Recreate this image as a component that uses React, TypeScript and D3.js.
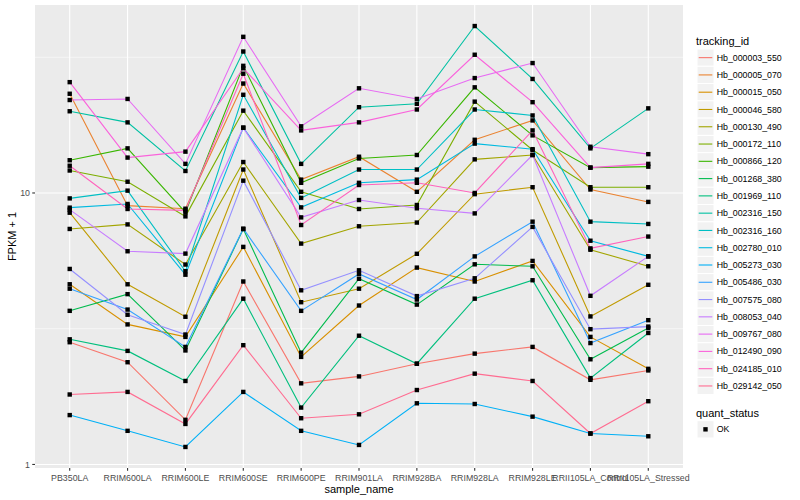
import React from 'react';
import * as d3 from 'd3';

const sampleNames = [
  'PB350LA', 'RRIM600LA', 'RRIM600LE', 'RRIM600SE', 'RRIM600PE', 'RRIM901LA',
  'RRIM928BA', 'RRIM928LA', 'RRIM928LE', 'RRII105LA_Control', 'RRII105LA_Stressed',
];

const trackingIds = [
  'Hb_000003_550', 'Hb_000005_070', 'Hb_000015_050', 'Hb_000046_580', 'Hb_000130_490',
  'Hb_000172_110', 'Hb_000866_120', 'Hb_001268_380', 'Hb_001969_110', 'Hb_002316_150',
  'Hb_002316_160', 'Hb_002780_010', 'Hb_005273_030', 'Hb_005486_030', 'Hb_007575_080',
  'Hb_008053_040', 'Hb_009767_080', 'Hb_012490_090', 'Hb_024185_010', 'Hb_029142_050',
];

const seriesColors = [
  '#F8766D', '#EA8331', '#D89000', '#C09B00', '#A3A500', '#7CAE00', '#39B600', '#00BB4E',
  '#00BF7D', '#00C1A3', '#00BFC4', '#00BAE0', '#00B0F6', '#35A2FF', '#9590FF', '#C77CFF',
  '#E76BF3', '#FA62DB', '#FF62BC', '#FF6C91',
];

// FPKM + 1 per sample (same order as sampleNames)
const hb_000003_550 = [2.82, 2.38, 1.46, 4.72, 1.99, 2.11, 2.35, 2.56, 2.71, 2.05, 2.22];
const hb_000005_070 = [23.2, 8.98, 8.75, 25.3, 11.2, 13.6, 10.1, 15.7, 18.5, 10.3, 9.27];
const hb_000015_050 = [4.61, 3.28, 2.95, 6.33, 2.49, 3.85, 5.31, 4.72, 5.62, 2.95, 2.25];
const hb_000046_580 = [8.46, 4.61, 3.5, 12.2, 3.96, 4.44, 5.97, 9.9, 10.5, 3.51, 4.59];
const hb_000130_490 = [7.37, 7.66, 5.45, 13.0, 6.51, 7.54, 7.78, 13.3, 13.8, 6.18, 5.37];
const hb_000172_110 = [12.1, 11.0, 8.2, 20.1, 10.1, 8.73, 9.03, 21.7, 14.4, 10.5, 10.5];
const hb_000866_120 = [13.2, 14.6, 8.48, 29.4, 10.9, 13.4, 13.8, 24.5, 16.3, 12.4, 12.5];
const hb_001268_380 = [3.68, 4.24, 2.63, 7.36, 2.58, 4.83, 3.88, 5.46, 5.37, 2.44, 3.18];
const hb_001969_110 = [2.89, 2.62, 2.03, 4.08, 1.62, 2.98, 2.35, 4.08, 4.77, 2.08, 3.05];
const hb_002316_150 = [20.0, 18.2, 12.05, 33.2, 12.8, 20.7, 21.3, 41.2, 26.3, 14.6, 20.5];
const hb_002316_160 = [9.55, 10.2, 5.15, 23.0, 9.59, 12.2, 12.2, 20.3, 19.3, 7.84, 7.69];
const hb_002780_010 = [8.83, 9.11, 5.0, 17.4, 8.85, 10.9, 11.2, 15.2, 14.5, 6.67, 5.84];
const hb_005273_030 = [1.52, 1.33, 1.16, 1.85, 1.33, 1.18, 1.68, 1.67, 1.5, 1.3, 1.27];
const hb_005486_030 = [4.44, 3.72, 2.71, 7.39, 3.68, 5.03, 4.05, 5.84, 7.84, 2.8, 3.4];
const hb_007575_080 = [5.25, 3.56, 3.01, 11.1, 4.38, 5.19, 4.17, 4.85, 7.5, 3.15, 3.22];
const hb_008053_040 = [8.68, 6.1, 5.98, 17.4, 8.13, 9.42, 8.78, 8.41, 13.8, 4.18, 5.84];
const hb_009767_080 = [22.0, 22.2, 12.8, 37.6, 17.6, 24.3, 22.2, 26.5, 30.1, 14.8, 13.9];
const hb_012490_090 = [25.6, 13.5, 14.2, 28.8, 17.0, 18.2, 20.3, 32.3, 21.6, 12.4, 12.8];
const hb_024185_010 = [12.6, 8.73, 8.63, 27.5, 7.62, 10.7, 10.9, 10.0, 17.0, 6.25, 6.91];
const hb_029142_050 = [1.81, 1.85, 1.41, 2.75, 1.48, 1.53, 1.88, 2.16, 2.03, 1.3, 1.71];

const seriesValues = [
  hb_000003_550, hb_000005_070, hb_000015_050, hb_000046_580, hb_000130_490,
  hb_000172_110, hb_000866_120, hb_001268_380, hb_001969_110, hb_002316_150,
  hb_002316_160, hb_002780_010, hb_005273_030, hb_005486_030, hb_007575_080,
  hb_008053_040, hb_009767_080, hb_012490_090, hb_024185_010, hb_029142_050,
];

const yMajorTicks = [1, 10];
const yTickLabels = ['1', '10'];
const quantStatusLevels = ['OK'];

const FONT = '"Liberation Sans", Arial, Helvetica, sans-serif';

export default function App() {
  const W = 800, H = 500;
  const panel = { left: 35, right: 683, top: 5, bottom: 468 };

  const x = d3.scalePoint<string>().domain(sampleNames).range([panel.left, panel.right]).padding(0.6);

  const all = seriesValues.flat();
  const lo = Math.log10(d3.min(all) as number);
  const hi = Math.log10(d3.max(all) as number);
  const ex = (hi - lo) * 0.05;
  const y = d3.scaleLog().domain([Math.pow(10, lo - ex), Math.pow(10, hi + ex)]).range([panel.bottom, panel.top]);

  // minor breaks: midpoints between majors in log space
  const majorsExt = [0.1, 1, 10, 100];
  const minor = majorsExt.slice(0, -1).map((m, i) => Math.sqrt(m * majorsExt[i + 1]))
    .filter(v => y(v) >= panel.top && y(v) <= panel.bottom);

  const line = d3.line<number>()
    .x((_, i) => x(sampleNames[i]) as number)
    .y(d => y(d));

  const legendX = 697;
  const keyW = 17, keyH = 17.28;
  const legendTop = 49;

  return (
    <svg width={W} height={H} style={{ position: 'absolute', left: 0, top: 0, background: '#fff' }}
      fontFamily={FONT}>
      <rect x={0} y={0} width={W} height={H} fill="#fff" />
      <rect x={panel.left} y={panel.top} width={panel.right - panel.left} height={panel.bottom - panel.top} fill="#EBEBEB" />
      {minor.map((v, i) => (
        <line key={'mn' + i} x1={panel.left} x2={panel.right} y1={y(v)} y2={y(v)} stroke="#fff" strokeWidth={0.55} />
      ))}
      {yMajorTicks.map((v, i) => (
        <line key={'mj' + i} x1={panel.left} x2={panel.right} y1={y(v)} y2={y(v)} stroke="#fff" strokeWidth={1.1} />
      ))}
      {sampleNames.map(s => (
        <line key={'vx' + s} x1={x(s)} x2={x(s)} y1={panel.top} y2={panel.bottom} stroke="#fff" strokeWidth={1.1} />
      ))}

      {seriesValues.map((vals, i) => (
        <path key={'ln' + i} d={line(vals) as string} fill="none" stroke={seriesColors[i]} strokeWidth={1.1} />
      ))}
      {seriesValues.map((vals, i) => vals.map((v, j) => (
        <rect key={'pt' + i + '_' + j} x={(x(sampleNames[j]) as number) - 2.2} y={y(v) - 2.2} width={4.4} height={4.4} fill="#000" />
      )))}

      {/* y axis */}
      {yMajorTicks.map((v, i) => (
        <g key={'yt' + i}>
          <line x1={panel.left - 2.75} x2={panel.left} y1={y(v)} y2={y(v)} stroke="#333" strokeWidth={1.1} />
          <text x={panel.left - 5} y={y(v)} dy="0.35em" textAnchor="end" fontSize={8.8} fill="#4D4D4D">{yTickLabels[i]}</text>
        </g>
      ))}
      {/* x axis */}
      {sampleNames.map(s => (
        <g key={'xt' + s}>
          <line x1={x(s)} x2={x(s)} y1={panel.bottom} y2={panel.bottom + 2.75} stroke="#333" strokeWidth={1.1} />
          <text x={x(s)} y={panel.bottom + 12.5} textAnchor="middle" fontSize={8.8} fill="#4D4D4D">{s}</text>
        </g>
      ))}
      <text x={(panel.left + panel.right) / 2} y={493} textAnchor="middle" fontSize={11} fill="#000">sample_name</text>
      <text transform={`translate(16,${(panel.top + panel.bottom) / 2}) rotate(-90)`} textAnchor="middle" fontSize={11} fill="#000">FPKM + 1</text>

      {/* legend: tracking_id */}
      <text x={legendX - 1} y={44.5} fontSize={11} fill="#000">tracking_id</text>
      {trackingIds.map((id, i) => {
        const top = legendTop + i * keyH;
        return (
          <g key={'lg' + id}>
            <rect x={legendX} y={top} width={keyW} height={keyH} fill="#F2F2F2" stroke="#fff" strokeWidth={1} />
            <line x1={legendX + 1.7} x2={legendX + keyW - 1.7} y1={top + keyH / 2} y2={top + keyH / 2} stroke={seriesColors[i]} strokeWidth={1.1} />
            <text x={legendX + keyW + 2.7} y={top + keyH / 2} dy="0.35em" fontSize={8.8} fill="#000">{id}</text>
          </g>
        );
      })}

      {/* legend: quant_status */}
      <text x={legendX - 1} y={416.5} fontSize={11} fill="#000">quant_status</text>
      {quantStatusLevels.map((q, i) => {
        const top = 420.7 + i * keyH;
        return (
          <g key={'qs' + q}>
            <rect x={legendX} y={top} width={keyW} height={keyH} fill="#F2F2F2" stroke="#fff" strokeWidth={1} />
            <rect x={legendX + keyW / 2 - 2.2} y={top + keyH / 2 - 2.2} width={4.4} height={4.4} fill="#000" />
            <text x={legendX + keyW + 2.7} y={top + keyH / 2} dy="0.35em" fontSize={8.8} fill="#000">{q}</text>
          </g>
        );
      })}
    </svg>
  );
}
